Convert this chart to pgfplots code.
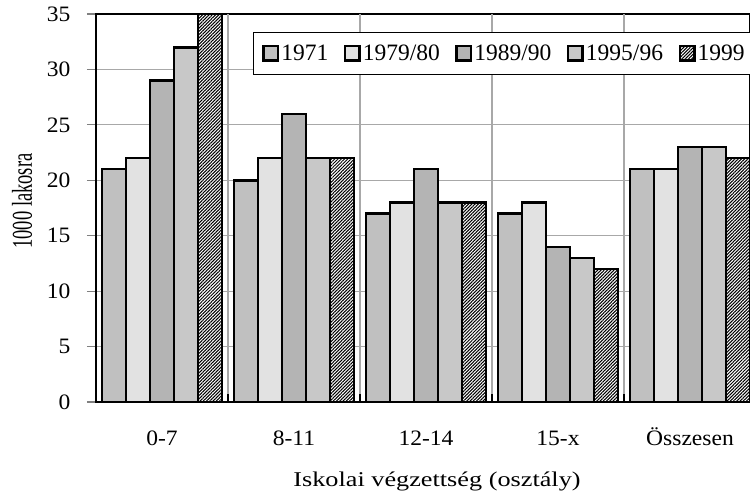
\documentclass[border=0pt]{standalone}
\usepackage{pgfplots}
\pgfplotsset{compat=1.18}
\usetikzlibrary{patterns.meta}
\usepackage{fontspec}
\setmainfont{Liberation Serif}
\newfontfamily\tickfont{Liberation Serif}[FakeStretch=1.07]
\newfontfamily\wideserif{Liberation Serif}[FakeStretch=1.25]

\definecolor{c71}{HTML}{C0C0C0}
\definecolor{c79}{HTML}{E2E2E2}
\definecolor{c89}{HTML}{B4B4B4}
\definecolor{c95}{HTML}{C8C8C8}
\definecolor{gridgray}{HTML}{A8A8A8}

\pgfplotsset{
  s71/.style={draw=black, line width=2.5pt, fill=c71},
  s79/.style={draw=black, line width=2.5pt, fill=c79},
  s89/.style={draw=black, line width=2.5pt, fill=c89},
  s95/.style={draw=black, line width=2.5pt, fill=c95},
  s99/.style={draw=black, line width=2.5pt, fill=white,
    postaction={pattern={Lines[angle=45,distance=2.3pt,line width=1.05pt]}, pattern color=black}},
}

\begin{document}
\begin{tikzpicture}
\useasboundingbox (0,0) rectangle (750pt,497pt);
\begin{axis}[
  at={(96pt,95pt)}, anchor=south west,
  scale only axis, width=654pt, height=388pt,
  xmin=-0.5, xmax=4.4545, ymin=0, ymax=35,
  ybar=0pt, bar width=24pt,
  xtick={0,1,2,3,4},
  xticklabels={0-7,8-11,12-14,15-x,Összesen},
  xtick style={draw=none},
  ytick={0,5,...,35}, ytick pos=left,
  tick align=outside, major tick length=9pt,
  ytick style={line width=1.2pt},
  ymajorgrids, grid style={draw=gridgray, line width=1.2pt},
  axis line style={line width=1.3pt},
  tick label style={font=\tickfont\fontsize{22}{26}\selectfont},
  /pgf/number format/assume math mode=true,
  xticklabel style={anchor=base, yshift=-35pt},
  yticklabel={\pgfmathprintnumber{\tick}\hspace*{13pt}},
  ylabel={\fontsize{18.5}{21}\selectfont\scalebox{1}[1.55]{1000 lakosra}},
  ylabel style={at={(axis description cs:-0.1132,0.518)}, anchor=center},
  xlabel={\wideserif\fontsize{21}{25}\selectfont Iskolai végzettség (osztály)},
  xlabel style={at={(axis description cs:0.5214,-0.2165)}, anchor=base},
  clip=false,
  legend columns=5,
  legend style={at={(axis description cs:0.2401,0.9536)}, anchor=north west,
    draw=black, line width=0.8pt, font=\fontsize{23.5}{27}\selectfont,
    inner xsep=9pt, inner ysep=10.5pt,
    /tikz/every even column/.append style={column sep=13.5pt}},
  legend image code/.code={\draw[#1, line width=2.5pt] (0pt,-7.25pt) rectangle (14.5pt,7.25pt);},
]
\pgfplotsinvokeforeach{0.5,1.5,2.5,3.5}{
  \draw[gridgray, line width=1.2pt] (axis cs:#1,0) -- (axis cs:#1,35);
  \draw[black, line width=1.2pt] (axis cs:#1,0) -- ++(0pt,8pt);
}
\addplot[s71] coordinates {(0,21) (1,20) (2,17) (3,17) (4,21)};
\addplot[s79] coordinates {(0,22) (1,22) (2,18) (3,18) (4,21)};
\addplot[s89] coordinates {(0,29) (1,26) (2,21) (3,14) (4,23)};
\addplot[s95] coordinates {(0,32) (1,22) (2,18) (3,13) (4,23)};
\addplot[s99] coordinates {(0,35) (1,22) (2,18) (3,12) (4,22)};
\legend{1971,1979/80,1989/90,1995/96,1999}
\end{axis}
\end{tikzpicture}
\end{document}
